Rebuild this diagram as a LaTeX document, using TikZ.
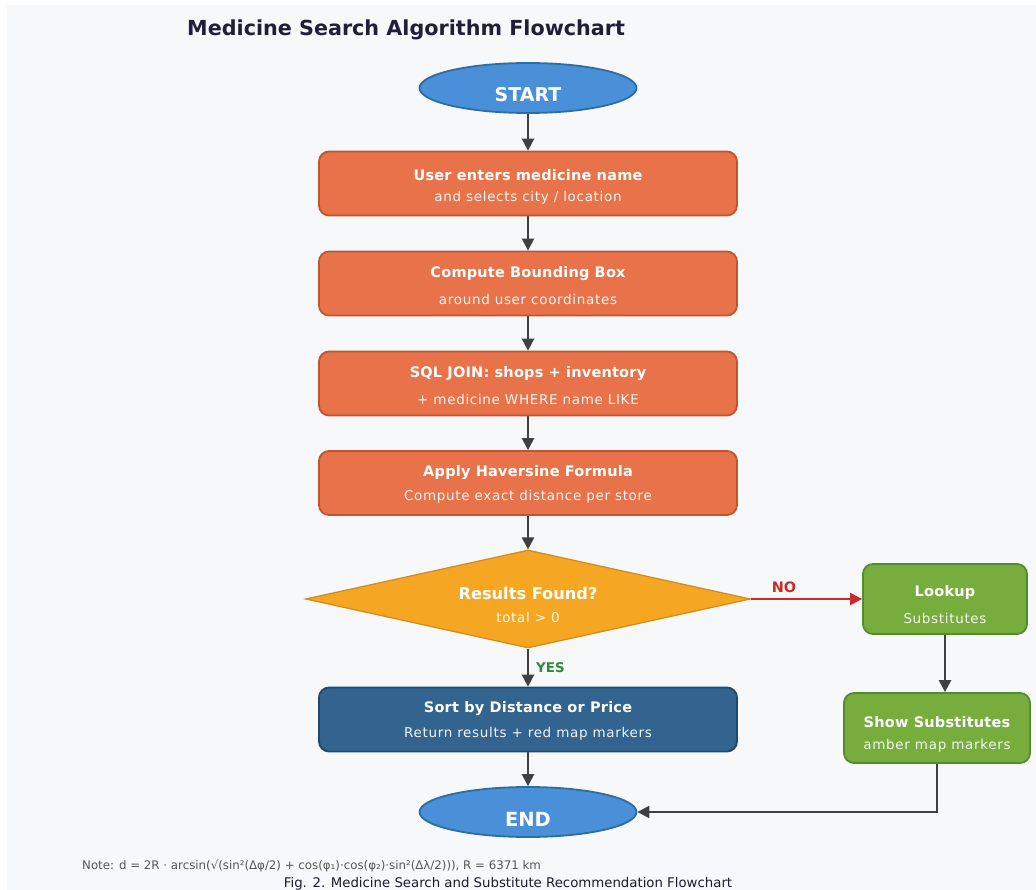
\documentclass[tikz,border=0pt]{standalone}
\usepackage{fontspec}
\setmainfont{DejaVu Sans}
\usetikzlibrary{shapes.geometric,arrows.meta,calc}
\definecolor{bggray}{HTML}{F7F8FA}
\definecolor{titlecol}{HTML}{1F1F3A}
\definecolor{orfill}{HTML}{E8734A}
\definecolor{ordraw}{HTML}{C0562E}
\definecolor{blfill}{HTML}{4A90D9}
\definecolor{bldraw}{HTML}{2E6DA4}
\definecolor{dbfill}{HTML}{33648F}
\definecolor{dbdraw}{HTML}{1F4A6E}
\definecolor{yefill}{HTML}{F5A623}
\definecolor{yedraw}{HTML}{D4891A}
\definecolor{grfill}{HTML}{76AD3D}
\definecolor{grdraw}{HTML}{558B2F}
\definecolor{arrcol}{HTML}{404040}
\definecolor{nocol}{HTML}{CC2929}
\definecolor{yescol}{HTML}{2E8B3A}
\definecolor{notecol}{HTML}{555555}
\tikzset{
  procbox/.style={draw=ordraw,fill=orfill,line width=1.8pt,rounded corners=10pt,minimum width=418pt,minimum height=64pt,inner sep=0pt},
  termnode/.style={ellipse,draw=bldraw,fill=blfill,line width=1.8pt,minimum width=217pt,minimum height=50pt,inner sep=0pt},
  greenbox/.style={draw=grdraw,fill=grfill,line width=1.8pt,rounded corners=10pt,inner sep=0pt},
  hd/.style={text=white,font=\fontsize{14.5}{16}\selectfont\bfseries\addfontfeatures{LetterSpace=1.5},inner sep=0pt},
  sb/.style={text=white,text opacity=0.92,font=\fontsize{13.5}{15}\selectfont\addfontfeatures{LetterSpace=5},inner sep=0pt},
  flow/.style={draw=arrcol,line width=2.4pt,-{Triangle[length=12pt,width=12pt]}},
}
\begin{document}
\begin{tikzpicture}[x=1pt,y=-1pt]
\useasboundingbox (0,0) rectangle (1036,890);
\fill[white] (0,0) rectangle (1036,890);
\fill[bggray] (7,5) rectangle (1036,890);
\node[text=titlecol,font=\fontsize{20.7}{22}\selectfont\bfseries,anchor=west,inner sep=0pt] (title) at (187,29.5) {Medicine Search Algorithm Flowchart};

\node[termnode] (start) at (528,88) {};
\node[text=white,font=\fontsize{19}{21}\selectfont\bfseries] (startt) at (528,95) {START};

\node[procbox] (b1) at (528,183.5) {};
\node[hd] (b1a) at (528,175) {User enters medicine name};
\node[sb] (b1b) at (528,198) {and selects city / location};

\node[procbox] (b2) at (528,283.5) {};
\node[hd] (b2a) at (528,274) {Compute Bounding Box};
\node[sb] (b2b) at (528,299) {around user coordinates};

\node[procbox] (b3) at (528,383.5) {};
\node[hd] (b3a) at (528,374) {SQL JOIN: shops + inventory};
\node[sb] (b3b) at (528,399) {+ medicine WHERE name LIKE};

\node[procbox] (b4) at (528,483) {};
\node[hd] (b4a) at (528,473) {Apply Haversine Formula};
\node[sb] (b4b) at (528,497) {Compute exact distance per store};

\node[diamond,draw=yedraw,fill=yefill,line width=1.2pt,minimum width=445pt,minimum height=98pt,inner sep=0pt] (dec) at (528,599) {};
\node[text=white,font=\fontsize{16.2}{18}\selectfont\bfseries,inner sep=0pt] (deca) at (528,593) {Results Found?};
\node[sb] (decb) at (528,617) {total > 0};

\node[procbox,draw=dbdraw,fill=dbfill] (b5) at (528,719.5) {};
\node[hd] (b5a) at (528,709) {Sort by Distance or Price};
\node[sb] (b5b) at (528,734) {Return results + red map markers};

\node[termnode] (end) at (528,812) {};
\node[text=white,font=\fontsize{19.5}{21}\selectfont\bfseries] (endt) at (528,819) {END};

\node[greenbox,minimum width=164pt,minimum height=70pt] (look) at (945,599) {};
\node[hd] (looka) at (945,592) {Lookup};
\node[sb] (lookb) at (945,618) {Substitutes};

\node[greenbox,minimum width=186pt,minimum height=70pt] (show) at (937,728) {};
\node[hd] (showa) at (937,722) {Show Substitutes};
\node[sb] (showb) at (937,746) {amber map markers};

\draw[flow] (start.south) -- (b1.north);
\draw[flow] (b1.south) -- (b2.north);
\draw[flow] (b2.south) -- (b3.north);
\draw[flow] (b3.south) -- (b4.north);
\draw[flow] (b4.south) -- (dec.north);
\draw[flow] (dec.south) -- (b5.north);
\draw[flow] (b5.south) -- (end.north);
\draw[flow,draw=nocol] (dec.east) -- (look.west);
\draw[flow] (look.south) -- (look.south |- show.north);
\draw[flow] (show.south) |- (end.east);

\node[text=nocol,font=\fontsize{14.4}{16}\selectfont\bfseries,inner sep=0pt] (nolab) at (784,587) {NO};
\node[text=yescol,font=\fontsize{13.4}{15}\selectfont\bfseries,anchor=west,inner sep=0pt] (yeslab) at (536,668) {YES};

\node[text=notecol,font=\fontsize{11.8}{13}\selectfont,anchor=west,inner sep=0pt] (note) at (82,866) {Note: d = 2R · arcsin(√(sin²(Δφ/2) + cos(φ₁)·cos(φ₂)·sin²(Δλ/2))), R = 6371 km};
\node[text=titlecol!85!black,font=\fontsize{13.3}{15}\selectfont,inner sep=0pt] (cap) at (508,884) {Fig. 2. Medicine Search and Substitute Recommendation Flowchart};
\end{tikzpicture}
\end{document}
